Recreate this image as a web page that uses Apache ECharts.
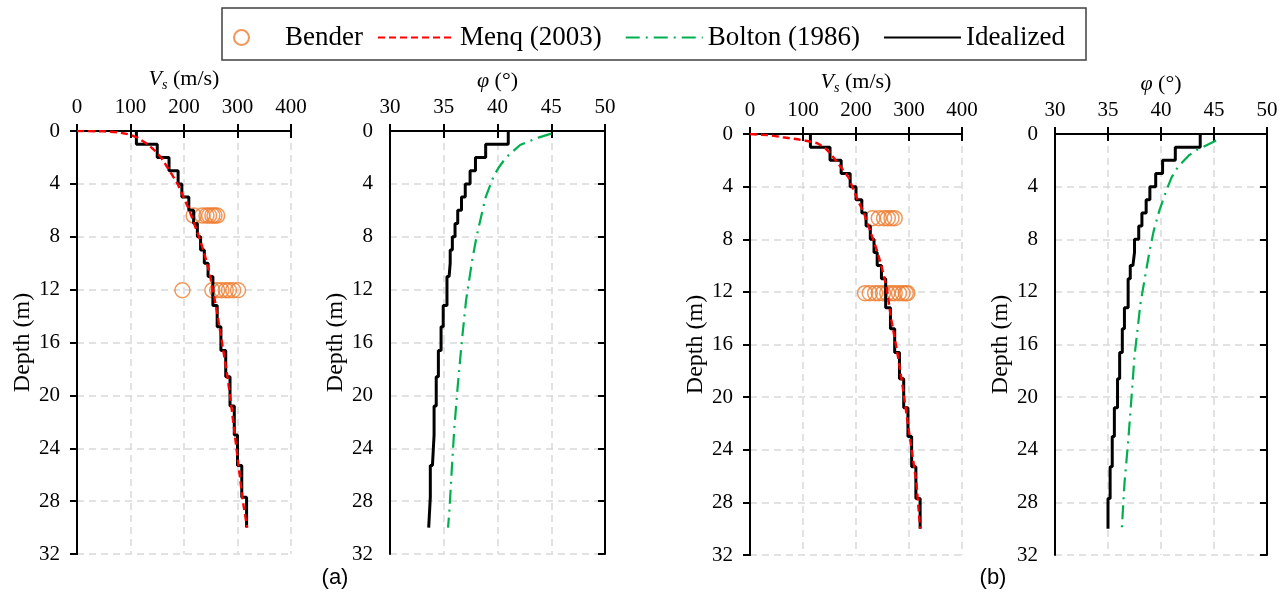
<!DOCTYPE html>
<html>
<head>
<meta charset="utf-8">
<script src="https://cdn.jsdelivr.net/npm/echarts@6/dist/echarts.min.js"></script>
<style>
  html, body { margin: 0; padding: 0; background: #fff; }
  #chart { width: 1286px; height: 604px; }
</style>
</head>
<body>
<div id="chart"></div>
<script>
// layer boundaries of the idealized profiles (m)
const layerDepths = [0, 1, 2, 3, 4, 5, 6, 7, 8, 9, 10, 11, 13.2, 14.8, 16.6, 18.6, 20.8, 23, 25.3, 27.7, 30]

// (a) idealized layers
const vsIdealA = [111, 150, 172, 189, 196, 209, 218, 225, 231, 238, 245, 254, 262, 269, 278, 286, 294, 300, 308, 317]
const phiIdealA = [41.0, 38.9, 37.95, 37.45, 37.0, 36.65, 36.3, 36.05, 35.8, 35.6, 35.5, 35.3, 34.95, 34.75, 34.5, 34.3, 34.1, 33.95, 33.75, 33.6]
// (b) idealized layers
const vsIdealB = [114, 151, 172, 189, 200, 211, 219, 227, 234, 240, 248, 256, 265, 273, 282, 290, 298, 305, 313, 321]
const phiIdealB = [43.7, 41.35, 40.15, 39.5, 38.95, 38.6, 38.2, 37.9, 37.5, 37.35, 37.1, 36.9, 36.55, 36.35, 36.1, 35.9, 35.6, 35.4, 35.2, 35.0]

// Menq (2003)
const menqDepthA = [0, 0.02, 0.1, 0.25, 0.5, 1, 1.5, 2, 3, 4, 5, 6, 7, 8, 9, 10, 11, 12, 14, 16, 18, 20, 22, 24, 26, 28, 30]
const menqVsA = [0, 50, 77, 96, 113, 132, 146, 157, 173, 188, 199, 210, 219, 228, 236, 243, 249, 254, 263, 271, 279, 286, 292, 298, 304, 310, 318]
const menqDepthB = [0, 0.1, 0.25, 0.4, 0.55, 0.7, 1, 1.5, 2.5, 3.3, 4, 5, 6, 7.4, 8.9, 10.2, 11.7, 14, 16.4, 18.9, 21.5, 24, 26.5, 30]
const menqVsB = [0, 38, 62, 90, 110, 127, 140, 152, 171, 186, 193, 203, 215, 227, 240, 249, 258, 266, 277, 287, 296, 305, 314, 321]

// Bolton (1986)
const boltonDepthA = [0.2, 0.5, 1.06, 2, 2.8, 3.5, 5, 6.5, 8, 9.7, 12.85, 16, 19.3, 22.5, 25.7, 28.8, 30]
const boltonPhiA = [45.0, 43.8, 42.1, 40.8, 40.08, 39.6, 38.9, 38.47, 38.05, 37.66, 37.07, 36.67, 36.3, 35.98, 35.74, 35.52, 35.4]
const boltonDepthB = [0.5, 1.2, 1.65, 2.5, 3.3, 4.3, 5.8, 7.4, 9, 10.6, 12.9, 16.9, 20.2, 23.4, 26.5, 30]
const boltonPhiB = [45.2, 43.4, 42.6, 41.6, 41.0, 40.5, 39.85, 39.3, 38.9, 38.55, 38.06, 37.5, 37.2, 36.9, 36.56, 36.3]

// Bender element measurements
const benderDepthA1 = 6.4
const benderVsA1 = [218, 234, 242, 247, 253, 257, 262]
const benderDepthA2 = 12.05
const benderVsA2 = [197, 253, 262, 270, 278, 284, 292, 301]
const benderDepthB1 = 6.4
const benderVsB1 = [231, 243, 253, 260, 267, 273]
const benderDepthB2 = 12.1
const benderVsB2 = [217, 226, 236, 243, 251, 259, 267, 273, 281, 288, 294, 297]

const depthTicks = { min: 0, max: 32, interval: 4 }
const vsTicks = { min: 0, max: 400, interval: 100 }
const phiTicks = { min: 30, max: 50, interval: 5 }

const SERIF = '"Liberation Serif", "Times New Roman", serif'
const grids = [
  { left: 77, top: 131, width: 214, height: 423 },
  { left: 390, top: 131, width: 215, height: 423 },
  { left: 750, top: 134, width: 212, height: 421 },
  { left: 1055, top: 134, width: 212, height: 421 }
]

function stepLine(values) {
  const pts = []
  values.forEach((v, i) => {
    pts.push([v, layerDepths[i]])
    pts.push([v, layerDepths[i + 1]])
  })
  return pts
}

function pairs(xs, depths) {
  return xs.map((x, i) => [x, depths[i]])
}

const axisLine = { lineStyle: { color: '#000', width: 2 } }
const insideTick = { inside: true, length: 7, lineStyle: { color: '#000', width: 2 } }
const gridLine = { show: true, lineStyle: { color: '#d9d9d9', width: 1.5, type: [7, 5] } }
const labelStyle = { fontFamily: SERIF, fontSize: 21, color: '#000' }
const nameRich = {
  i: { fontFamily: SERIF, fontSize: 22, fontStyle: 'italic', color: '#000' },
  s: { fontFamily: SERIF, fontSize: 14, fontStyle: 'italic', color: '#000', padding: [12, 0, 0, 0] },
  n: { fontFamily: SERIF, fontSize: 22, color: '#000' }
}

const xAxes = []
const yAxes = []
const xNames = ['{i|V}{s|s}{n| (m/s)}', '{i|φ}{n| (°)}', '{i|V}{s|s}{n| (m/s)}', '{i|φ}{n| (°)}']
const xRanges = [vsTicks, phiTicks, vsTicks, phiTicks]

grids.forEach((g, gi) => {
  xAxes.push({
    gridIndex: gi, type: 'value', position: 'top', ...xRanges[gi],
    axisLine, axisTick: insideTick, splitLine: gridLine,
    axisLabel: { ...labelStyle, margin: 13 },
    name: xNames[gi], nameLocation: 'middle', nameGap: 33,
    nameTextStyle: { rich: nameRich }
  })
  xAxes.push({
    gridIndex: gi, type: 'value', position: 'bottom', ...xRanges[gi],
    axisLine, axisTick: insideTick, splitLine: { show: false }, axisLabel: { show: false }
  })
  yAxes.push({
    gridIndex: gi, type: 'value', position: 'left', inverse: true, ...depthTicks,
    axisLine, axisTick: { show: false }, splitLine: gridLine,
    axisLabel: { ...labelStyle, margin: 17 },
    name: 'Depth (m)', nameLocation: 'middle', nameGap: 42,
    nameTextStyle: { fontFamily: SERIF, fontSize: 24, color: '#000' }
  })
  yAxes.push({
    gridIndex: gi, type: 'value', position: 'right', inverse: true, ...depthTicks,
    axisLine, axisTick: insideTick, splitLine: { show: false }, axisLabel: { show: false }
  })
})

function benderSeries(gi, data) {
  return {
    name: 'Bender', type: 'scatter', xAxisIndex: gi * 2, yAxisIndex: gi * 2,
    symbol: 'circle', symbolSize: 15,
    itemStyle: { color: 'rgba(0,0,0,0)', borderColor: '#ed7d31', borderWidth: 1.5 },
    data, z: 3
  }
}
function lineSeries(name, gi, data, style, z) {
  return {
    name, type: 'line', xAxisIndex: gi * 2, yAxisIndex: gi * 2,
    showSymbol: false, symbol: 'none', lineStyle: style, itemStyle: { color: style.color },
    data, z, animation: false
  }
}

const idealStyle = { color: '#000', width: 3 }
const menqStyle = { color: '#ff0000', width: 2.4, type: [7, 4] }
const boltonStyle = { color: '#00b050', width: 2.2, type: [14, 6, 2, 6] }

const series = [
  benderSeries(0, [...benderVsA1.map(v => [v, benderDepthA1]), ...benderVsA2.map(v => [v, benderDepthA2])]),
  benderSeries(2, [...benderVsB1.map(v => [v, benderDepthB1]), ...benderVsB2.map(v => [v, benderDepthB2])]),
  lineSeries('Idealized', 0, stepLine(vsIdealA), idealStyle, 4),
  lineSeries('Menq (2003)', 0, pairs(menqVsA, menqDepthA), menqStyle, 5),
  lineSeries('Idealized', 1, stepLine(phiIdealA), idealStyle, 4),
  lineSeries('Bolton (1986)', 1, pairs(boltonPhiA, boltonDepthA), boltonStyle, 5),
  lineSeries('Idealized', 2, stepLine(vsIdealB), idealStyle, 4),
  lineSeries('Menq (2003)', 2, pairs(menqVsB, menqDepthB), menqStyle, 5),
  lineSeries('Idealized', 3, stepLine(phiIdealB), idealStyle, 4),
  lineSeries('Bolton (1986)', 3, pairs(boltonPhiB, boltonDepthB), boltonStyle, 5)
]

const chart = echarts.init(document.getElementById('chart'), null, { renderer: 'canvas' })
chart.setOption({
  animation: false,
  backgroundColor: '#fff',
  grid: grids,
  xAxis: xAxes,
  yAxis: yAxes,
  legend: [
    {
      data: ['Bender'], left: 233, top: 24, padding: 0, itemWidth: 15, itemHeight: 15,
      textStyle: { fontFamily: SERIF, fontSize: 27, color: '#000', padding: [0, 0, 0, 31] },
      selectedMode: false
    },
    {
      data: ['Menq (2003)', 'Bolton (1986)', 'Idealized'], left: 377, top: 24, padding: 0,
      itemWidth: 77, itemHeight: 14, itemGap: 23,
      itemStyle: { opacity: 0 },
      textStyle: { fontFamily: SERIF, fontSize: 27, color: '#000' },
      selectedMode: false
    }
  ],
  graphic: [
    { type: 'rect', shape: { x: 222, y: 8, width: 864, height: 52 }, style: { fill: 'none', stroke: '#404040', lineWidth: 1.5 } },
    { type: 'text', x: 335, y: 578, style: { text: '(a)', font: '22px "Liberation Sans", Arial, sans-serif', fill: '#000', align: 'center', verticalAlign: 'middle' } },
    { type: 'text', x: 993, y: 578, style: { text: '(b)', font: '22px "Liberation Sans", Arial, sans-serif', fill: '#000', align: 'center', verticalAlign: 'middle' } }
  ],
  series
})
</script>
</body>
</html>
